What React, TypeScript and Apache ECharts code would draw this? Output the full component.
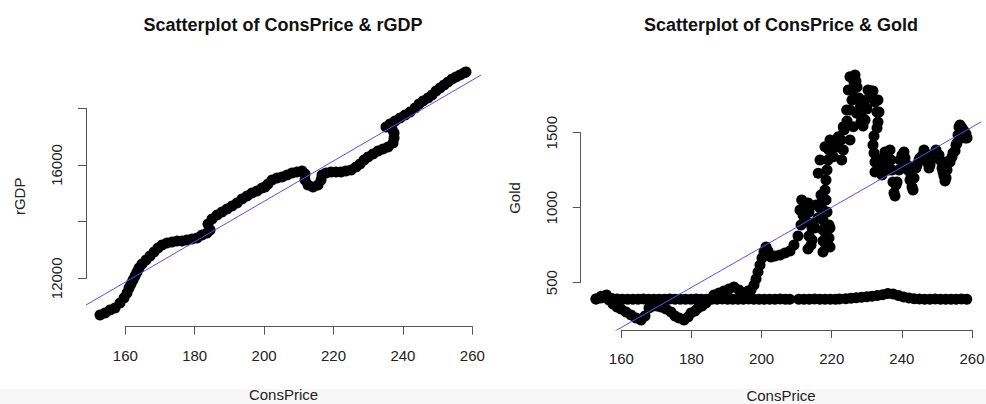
import React, { useEffect, useRef } from "react";
import * as echarts from "echarts";

// ---------- Left panel: ConsPrice vs rGDP ----------
const leftCons = [
  152.71, 154.15, 155.59, 157.03, 158.47, 159.62, 160.49, 161.07, 161.64, 162.22,
  162.8, 163.37, 163.95, 164.81, 165.97, 167.12, 168.27, 169.42, 170.58, 172.02,
  173.46, 174.9, 176.34, 177.78, 179.22, 180.66, 182.1, 183.54, 184.41, 183.83,
  184.99, 186.43, 187.87, 189.31, 190.75, 192.19, 193.63, 195.07, 196.51, 197.95,
  199.4, 200.26, 201.12, 202.28, 203.72, 205.16, 206.6, 208.04, 209.48, 210.92,
  211.79, 211.79, 212.65, 214.09, 215.53, 216.4, 216.69, 217.84, 219.28, 220.72,
  222.16, 223.6, 225.05, 226.49, 227.64, 228.79, 229.95, 231.39, 232.83, 234.27,
  235.71, 237.15, 237.44, 237.44, 236.86, 235.13, 236.28, 237.73, 239.17, 240.61,
  242.05, 243.49, 244.64, 245.79, 247.23, 248.39, 249.54, 250.69, 251.84, 253.0,
  254.15, 255.3, 256.45, 257.61, 258.18,
];
const leftGdp = [
  10706, 10776, 10882, 10953, 11129, 11306, 11482, 11658, 11800, 11941,
  12082, 12223, 12364, 12505, 12647, 12788, 12929, 13070, 13176, 13247,
  13282, 13317, 13317, 13352, 13388, 13423, 13529, 13599, 13705, 13917,
  14093, 14235, 14341, 14446, 14552, 14658, 14799, 14905, 15011, 15082,
  15187, 15223, 15329, 15470, 15540, 15576, 15646, 15717, 15752, 15787,
  15682, 15470, 15293, 15223, 15293, 15470, 15646, 15717, 15752, 15752,
  15752, 15787, 15823, 15929, 16034, 16176, 16281, 16387, 16493, 16564,
  16634, 16776, 16952, 17128, 17270, 17340, 17446, 17552, 17658, 17764,
  17870, 18011, 18152, 18258, 18364, 18469, 18611, 18716, 18822, 18928,
  19034, 19105, 19175, 19246, 19281,
];
const leftFitIntercept = 458;
const leftFitSlope = 71.3;
const leftXTicks = [160, 180, 200, 220, 240, 260];
const leftYTicks = [12000, 14000, 16000, 18000];
const leftYLabeled = [12000, 16000];

// ---------- Right panel: ConsPrice vs Gold ----------
const goldCons = [
  152.79, 154.21, 155.35, 156.49, 157.63, 158.77, 159.91, 161.34, 162.77, 164.19,
  165.62, 166.76, 167.9, 169.04, 170.18, 171.32, 172.75, 174.17, 175.31, 176.45,
  177.88, 179.02, 179.87, 181.01, 181.87, 183.01, 184.15, 185.29, 186.43, 187.86,
  189.28, 190.71, 192.13, 193.56, 194.99, 196.13, 196.98, 197.84, 198.41, 198.98,
  199.55, 200.12, 200.69, 201.26, 201.83, 202.69, 203.83, 205.25, 206.68, 208.1,
  209.24, 210.38, 211.24, 211.81, 212.67, 213.24, 213.52, 213.81, 213.52, 213.24,
  214.38, 215.23, 216.09, 216.66, 216.94, 217.23, 217.51, 217.51, 217.51, 217.51,
  217.51, 218.37, 219.22, 219.22, 218.65, 218.37, 218.08, 218.37, 218.65, 218.94,
  219.22, 220.36, 221.5, 222.64, 223.5, 224.36, 225.21, 225.78, 226.07, 226.35,
  226.64, 226.9, 227.21, 227.78, 228.06, 228.63, 228.92, 229.49, 230.06, 230.63,
  231.2, 231.77, 232.34, 232.91, 233.19, 232.91, 232.05, 231.77, 232.05, 232.34,
  232.34, 232.91, 233.76, 234.62, 235.19, 235.76, 236.33, 236.9, 237.18, 237.47,
  237.75, 238.04, 238.61, 239.18, 240.04, 240.89, 241.75, 242.32, 242.89, 243.46,
  244.03, 244.89, 245.74, 246.6, 247.17, 247.74, 248.31, 249.17, 250.02, 250.88,
  251.45, 252.02, 252.3, 252.87, 253.44, 254.3, 255.15, 255.72, 256.01, 256.29,
  257.15, 257.72, 258.29, 258.57,
];
const goldVals = [
  391, 398, 411, 385, 358, 338, 325, 305, 285, 265,
  251, 278, 331, 345, 345, 338, 325, 305, 278, 265,
  251, 271, 298, 311, 331, 345, 365, 391, 418, 431,
  445, 458, 471, 451, 431, 445, 451, 485, 525, 571,
  618, 665, 705, 738, 711, 671, 678, 685, 698, 711,
  751, 811, 885, 951, 1011, 1031, 971, 898, 811, 725,
  785, 865, 931, 998, 1085, 1038, 985, 918, 851, 778,
  705, 745, 798, 885, 971, 1051, 1118, 1185, 1251, 1318,
  1385, 1418, 1405, 1451, 1518, 1578, 1651, 1718, 1785, 1838,
  1885, 1845, 1805, 1731, 1665, 1598, 1545, 1585, 1658, 1731,
  1778, 1778, 1705, 1638, 1571, 1531, 1478, 1418, 1365, 1305,
  1238, 1245, 1265, 1331, 1371, 1318, 1251, 1318, 1251, 1171,
  1098, 1078, 1171, 1251, 1351, 1331, 1251, 1185, 1138, 1198,
  1265, 1318, 1345, 1365, 1305, 1265, 1318, 1358, 1358, 1318,
  1265, 1211, 1178, 1251, 1311, 1338, 1378, 1431, 1485, 1538,
  1531, 1511, 1491, 1465,
];
// extra readings along the edges of the wide 2008–2019 gold band
const goldEdgeCons = [
  210.95, 211.44, 212.29, 214.1, 214.38, 215.52, 218.37, 219.51, 219.51,
  216.17, 216.66, 218.08, 219.51, 221.88, 223.3, 224.27, 224.73, 225.21,
  220.45, 222.84, 223.3, 225.21, 226.15, 227.12, 227.58,
  228.35, 229.2, 230.35, 233.19, 233.48,
  233.19, 234.33, 235.47, 236.61, 238.33, 239.47, 240.61, 241.47, 242.61, 243.18,
  244.32, 245.17, 246.31, 246.88, 248.02, 248.88, 249.73, 250.59, 251.73, 252.59,
  253.72, 254.58, 255.44, 256.58, 257.43, 258.0,
];
const goldEdgeVals = [
  985, 1051, 918, 751, 865, 1018, 818, 865, 738,
  1229, 1318, 1407, 1451, 1473, 1540, 1651, 1785, 1873,
  1340, 1318, 1385, 1451, 1540, 1629, 1718,
  1571, 1685, 1785, 1718, 1638,
  1318, 1218, 1285, 1385, 1151, 1318, 1371, 1285, 1218, 1118,
  1285, 1331, 1385, 1351, 1285, 1331, 1385, 1351, 1238, 1198,
  1305, 1365, 1418, 1551, 1498, 1465,
];
const flatCons = [
  152.8, 154.3, 155.8, 157.3, 158.8, 160.3, 161.8, 163.3, 164.8, 166.3,
  167.8, 169.3, 170.8, 172.3, 173.8, 175.3, 176.8, 178.3, 179.8, 181.3,
  182.8, 184.3, 185.8, 187.3, 188.8, 190.3, 191.8, 193.3, 194.8, 196.3,
  197.8, 199.3, 200.8, 202.3, 203.8, 205.3, 206.8, 208.0,
  210.6, 212.1, 213.6, 215.1, 216.6, 218.1, 219.6, 221.1, 222.2,
  224.0, 225.5, 227.0, 228.5, 230.0, 231.5, 233.0, 234.5, 236.0, 237.5,
  239.0, 240.5, 242.0, 243.5, 245.0, 246.5, 248.0, 249.5, 251.0, 252.5,
  254.0, 255.5, 257.0, 258.5,
];
const flatGold = [
  392, 410, 418, 395, 391, 390, 390, 389, 390, 391,
  390, 389, 390, 390, 391, 390, 389, 390, 390, 391,
  390, 390, 389, 390, 391, 390, 390, 389, 390, 391,
  390, 390, 389, 390, 390, 391, 390, 390,
  390, 389, 390, 391, 390, 390, 389, 390, 391,
  393, 396, 400, 403, 406, 410, 415, 420, 428, 425,
  415, 405, 398, 393, 391, 390, 390, 391, 390, 389,
  390, 390, 391, 390,
];
const rightFitIntercept = -1936;
const rightFitSlope = 13.36;
const rightXTicks = [160, 180, 200, 220, 240, 260];
const rightYTicks = [500, 1000, 1500];

const FONT = "Liberation Sans, Arial, Helvetica, sans-serif";
const AXIS_COLOR = "#555";
const TEXT_COLOR = "#222";
const FIT_COLOR = "#5b4cff";
const DOT = 11;

const zip = (xs: number[], ys: number[]) => xs.map((x, i) => [x, ys[i]]);

function tickAxis(gridIndex: number, ticks: number[], labeled: number[] | null, isY: boolean) {
  const step = ticks[1] - ticks[0];
  return {
    type: "value",
    gridIndex,
    min: ticks[0],
    max: ticks[ticks.length - 1],
    interval: step,
    position: isY ? "left" : "bottom",
    axisLine: { show: true, lineStyle: { color: AXIS_COLOR, width: 1 } },
    axisTick: { show: true, length: 8, lineStyle: { color: AXIS_COLOR, width: 1 } },
    splitLine: { show: false },
    axisLabel: {
      show: true,
      fontSize: 15,
      color: TEXT_COLOR,
      fontFamily: FONT,
      margin: isY ? 22 : 21,
      rotate: isY ? 90 : 0,
      showMinLabel: true,
      showMaxLabel: true,
      hideOverlap: false,
      formatter: (v: number) => (labeled && !labeled.includes(v) ? "" : String(v)),
    },
  };
}

function hiddenAxis(gridIndex: number) {
  return { type: "value", gridIndex, show: false, min: 0, max: 1 };
}

function dataAxis(gridIndex: number, min: number, max: number, name: string, gap: number) {
  return {
    type: "value",
    gridIndex,
    min,
    max,
    name,
    nameLocation: "middle",
    nameGap: gap,
    nameTextStyle: { fontSize: 15, lineHeight: 15, color: TEXT_COLOR, fontFamily: FONT },
    axisLine: { show: false },
    axisTick: { show: false },
    axisLabel: { show: false },
    splitLine: { show: false },
  };
}

const L = { xMin: 148.67, xMax: 262.5, yMin: 10293, yMax: 19493 };
const R = { xMin: 148.42, xMax: 262.65, yMin: 184.7, yMax: 1944.7 };

const dotSeries = (axis: number, data: number[][]) => ({
  type: "scatter",
  xAxisIndex: axis,
  yAxisIndex: axis,
  symbolSize: DOT,
  itemStyle: { color: "#000", opacity: 1 },
  emphasis: { disabled: true },
  data,
});

const gridBox = (left: number, top: number, width: number, height: number) => ({
  left,
  top,
  width,
  height,
  containLabel: false,
  outerBoundsMode: "none",
});

const option = {
  animation: false,
  backgroundColor: "#ffffff",
  textStyle: { fontFamily: FONT },
  graphic: [
    {
      type: "rect",
      z: -10,
      silent: true,
      shape: { x: 0, y: 389, width: 986, height: 15 },
      style: { fill: "#f7f7f7" },
    },
    {
      type: "text",
      x: 283,
      y: 25,
      style: {
        text: "Scatterplot of ConsPrice & rGDP",
        fontSize: 18,
        fontWeight: "bold",
        fontFamily: FONT,
        fill: "#111",
        textAlign: "center",
        textVerticalAlign: "middle",
      },
    },
    {
      type: "text",
      x: 781,
      y: 25,
      style: {
        text: "Scatterplot of ConsPrice & Gold",
        fontSize: 18,
        fontWeight: "bold",
        fontFamily: FONT,
        fill: "#111",
        textAlign: "center",
        textVerticalAlign: "middle",
      },
    },
  ],
  grid: [
    gridBox(86, 66, 395, 260.7),
    gridBox(125.3, 325.7, 347, 1),
    gridBox(86, 108.3, 1, 170),
    gridBox(580.7, 66, 400.6, 264),
    gridBox(621.3, 329, 350.7, 1),
    gridBox(580.7, 132.7, 1, 150),
  ],
  xAxis: [
    dataAxis(0, L.xMin, L.xMax, "ConsPrice", 60),
    tickAxis(1, leftXTicks, null, false),
    hiddenAxis(2),
    dataAxis(3, R.xMin, R.xMax, "ConsPrice", 58),
    tickAxis(4, rightXTicks, null, false),
    hiddenAxis(5),
  ],
  yAxis: [
    dataAxis(0, L.yMin, L.yMax, "rGDP", 59),
    hiddenAxis(1),
    tickAxis(2, leftYTicks, leftYLabeled, true),
    dataAxis(3, R.yMin, R.yMax, "Gold", 59),
    hiddenAxis(4),
    tickAxis(5, rightYTicks, null, true),
  ],
  series: [
    dotSeries(0, zip(leftCons, leftGdp)),
    {
      type: "line",
      xAxisIndex: 0,
      yAxisIndex: 0,
      symbol: "none",
      clip: true,
      lineStyle: { color: FIT_COLOR, width: 1 },
      data: [
        [L.xMin, leftFitIntercept + leftFitSlope * L.xMin],
        [L.xMax, leftFitIntercept + leftFitSlope * L.xMax],
      ],
      z: 5,
    },
    dotSeries(3, zip(flatCons, flatGold)),
    dotSeries(3, zip(goldCons, goldVals)),
    dotSeries(3, zip(goldEdgeCons, goldEdgeVals)),
    {
      type: "line",
      xAxisIndex: 3,
      yAxisIndex: 3,
      symbol: "none",
      clip: true,
      lineStyle: { color: FIT_COLOR, width: 1 },
      data: [
        [R.xMin, rightFitIntercept + rightFitSlope * R.xMin],
        [R.xMax, rightFitIntercept + rightFitSlope * R.xMax],
      ],
      z: 5,
    },
  ],
};

export default function App() {
  const ref = useRef<HTMLDivElement>(null);
  useEffect(() => {
    if (!ref.current) return;
    const chart = echarts.init(ref.current, null, { renderer: "svg" });
    chart.setOption(option as any);
    return () => chart.dispose();
  }, []);
  return (
    <div
      ref={ref}
      style={{ position: "absolute", left: 0, top: 0, width: 986, height: 404, background: "#fff" }}
    />
  );
}
